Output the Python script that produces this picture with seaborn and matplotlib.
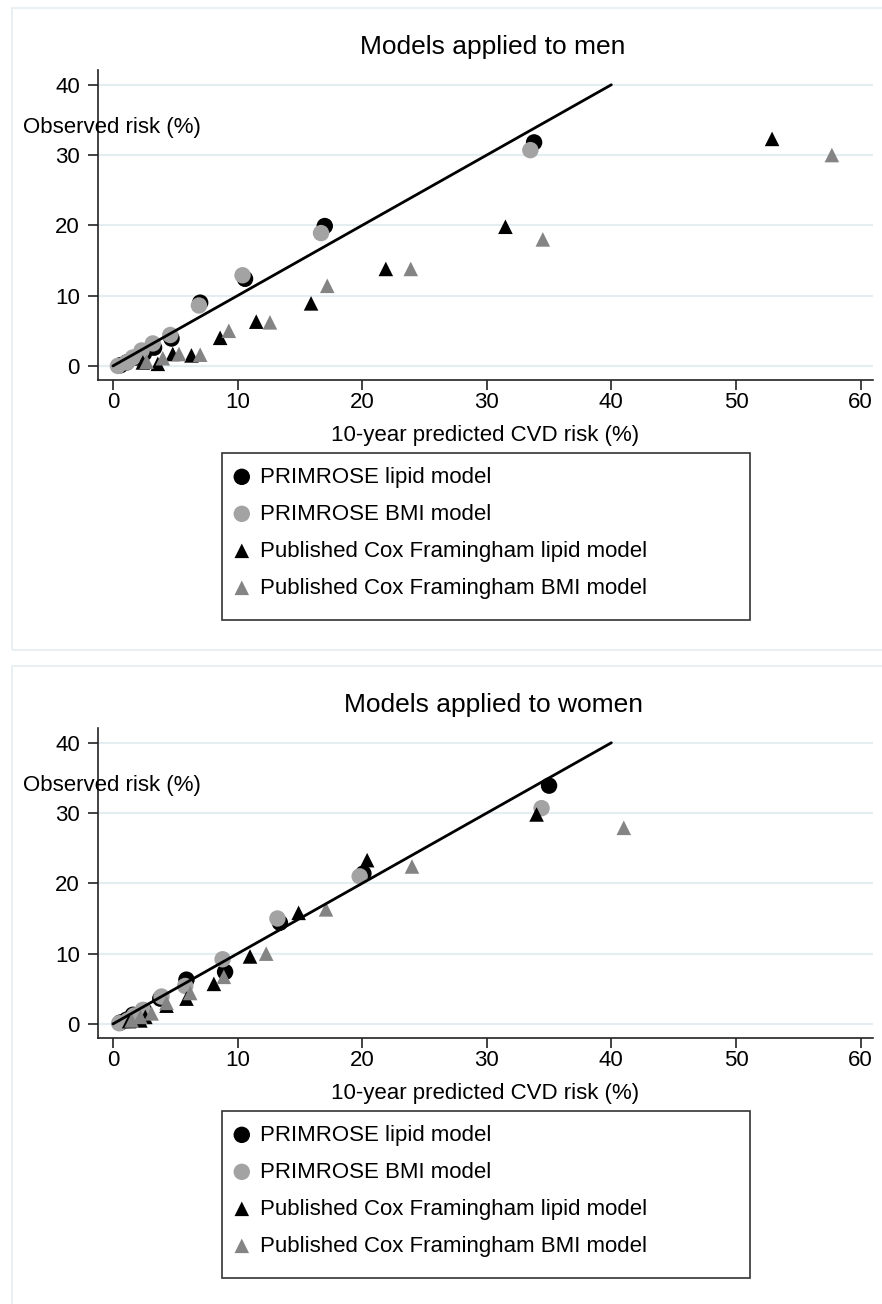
import matplotlib
matplotlib.use("Agg")
import matplotlib.pyplot as plt
from matplotlib.patches import Rectangle
import pandas as pd
import seaborn as sns

# ---- data: men ----
men_lipid_x = [0.6, 1.1, 1.9, 2.5, 3.3, 4.7, 7.0, 10.6, 17.0, 33.8]
men_lipid_y = [0.1, 0.5, 1.2, 1.8, 2.6, 3.9, 9.0, 12.4, 19.9, 31.8]
men_bmi_x = [0.4, 1.1, 1.6, 2.3, 3.2, 4.6, 6.9, 10.4, 16.7, 33.5]
men_bmi_y = [0.0, 0.5, 1.2, 2.2, 3.2, 4.4, 8.6, 12.9, 18.9, 30.7]
men_fram_lipid_x = [2.4, 3.6, 4.8, 6.3, 8.6, 11.5, 15.9, 21.9, 31.5, 52.9]
men_fram_lipid_y = [0.5, 0.3, 1.7, 1.5, 4.0, 6.3, 8.9, 13.8, 19.8, 32.3]
men_fram_bmi_x = [2.7, 4.0, 5.3, 7.0, 9.3, 12.6, 17.2, 23.9, 34.5, 57.7]
men_fram_bmi_y = [0.6, 1.1, 1.7, 1.6, 5.0, 6.2, 11.4, 13.8, 18.0, 30.0]

# ---- data: women ----
women_lipid_x = [0.6, 1.1, 1.6, 2.5, 3.8, 5.9, 9.0, 13.4, 20.1, 35.0]
women_lipid_y = [0.2, 0.6, 1.3, 1.9, 3.6, 6.3, 7.4, 14.4, 21.4, 33.9]
women_bmi_x = [0.5, 1.2, 1.7, 2.4, 3.9, 5.8, 8.8, 13.2, 19.8, 34.4]
women_bmi_y = [0.1, 0.5, 1.2, 2.0, 3.9, 5.4, 9.2, 15.0, 21.0, 30.7]
women_fram_lipid_x = [1.3, 2.2, 2.6, 4.3, 5.9, 8.1, 11.0, 14.9, 20.4, 34.0]
women_fram_lipid_y = [0.4, 0.5, 1.0, 2.6, 3.6, 5.7, 9.6, 15.8, 23.3, 29.8]
women_fram_bmi_x = [1.5, 2.2, 3.1, 4.3, 6.2, 8.9, 12.3, 17.1, 24.0, 41.0]
women_fram_bmi_y = [0.5, 1.0, 1.5, 3.0, 4.4, 6.7, 10.0, 16.3, 22.4, 27.9]

model_names = ["PRIMROSE lipid model", "PRIMROSE BMI model",
               "Published Cox Framingham lipid model",
               "Published Cox Framingham BMI model"]
ref_line = [0, 40]
x_ticks = [0, 10, 20, 30, 40, 50, 60]
y_ticks = [0, 10, 20, 30, 40]

sns.set_style("white")
plt.rcParams['font.family'] = ['Liberation Sans', 'DejaVu Sans']
plt.rcParams['text.color'] = 'black'
plt.rcParams['xtick.color'] = 'black'
plt.rcParams['ytick.color'] = 'black'
plt.rcParams['axes.labelcolor'] = 'black'

styles = [("o", "#000000", 140), ("o", "#a3a3a3", 140),
          ("^", "#000000", 110), ("^", "#848484", 110)]
grid_col = "#e4edf1"

fig = plt.figure(figsize=(8.82, 13.04), dpi=100)

W, H = 882, 1304


def fx(px):
    return px / W


def fy(py):
    return 1 - py / H


def panel(series, title, top_px):
    # stata-like outer frame
    fig.patches.append(Rectangle((fx(12), fy(top_px + 642)), 1.0, 642 / H,
                                 transform=fig.transFigure, fill=False,
                                 edgecolor=grid_col, lw=1.2))
    ax = fig.add_axes([fx(98), fy(top_px + 372), fx(873) - fx(98), 310 / H])
    for (xs, ys), (mk, col, s), name in zip(series, styles, model_names):
        df = pd.DataFrame({"pred": xs, "obs": ys})
        sns.scatterplot(data=df, x="pred", y="obs", ax=ax, marker=mk,
                        color=col, s=s, edgecolor="none", linewidth=0,
                        label=name, legend=False, zorder=3)
    sns.lineplot(x=ref_line, y=ref_line, ax=ax, color="black", lw=2, zorder=4)
    ax.set_xlim(-1.2, 61.0)
    ax.set_ylim(-2.0, 42.1)
    ax.set_xticks(x_ticks)
    ax.set_yticks(y_ticks)
    for yv in y_ticks:
        ax.axhline(yv, color=grid_col, lw=1.5, zorder=1)
    for side in ["top", "right"]:
        ax.spines[side].set_visible(False)
    for side in ["left", "bottom"]:
        ax.spines[side].set_color("#222222")
        ax.spines[side].set_linewidth(1.2)
    ax.tick_params(axis="both", labelsize=16, length=7, width=1.2,
                   color="#222222", direction="out", bottom=True, left=True)
    ax.tick_params(axis="y", pad=6)
    ax.tick_params(axis="x", pad=2)
    ax.set_xlabel("10-year predicted CVD risk (%)", fontsize=16, labelpad=8)
    ax.set_ylabel("")
    fig.text(fx(493), fy(top_px + 39), title, fontsize=19, ha="center",
             va="center")
    fig.text(fx(23), fy(top_px + 120), "Observed risk (%)", fontsize=16,
             ha="left", va="center")
    # legend box
    fig.patches.append(Rectangle((fx(222), fy(top_px + 612)),
                                 fx(750) - fx(222), 167 / H,
                                 transform=fig.transFigure, fill=False,
                                 edgecolor="#333333", lw=1.2))
    h, l = ax.get_legend_handles_labels()
    ax.legend(h, l, loc="upper left",
              bbox_to_anchor=(fx(224), fy(top_px + 452)),
              bbox_transform=fig.transFigure, frameon=False, fontsize=16,
              markerscale=1.0, handletextpad=0.3, handlelength=1.0,
              labelspacing=0.72, borderpad=0.3, borderaxespad=0)
    return ax


panel([(men_lipid_x, men_lipid_y), (men_bmi_x, men_bmi_y),
       (men_fram_lipid_x, men_fram_lipid_y), (men_fram_bmi_x, men_fram_bmi_y)],
      "Models applied to men", 8)
panel([(women_lipid_x, women_lipid_y), (women_bmi_x, women_bmi_y),
       (women_fram_lipid_x, women_fram_lipid_y),
       (women_fram_bmi_x, women_fram_bmi_y)],
      "Models applied to women", 666)

fig.savefig("out.png", dpi=100)
